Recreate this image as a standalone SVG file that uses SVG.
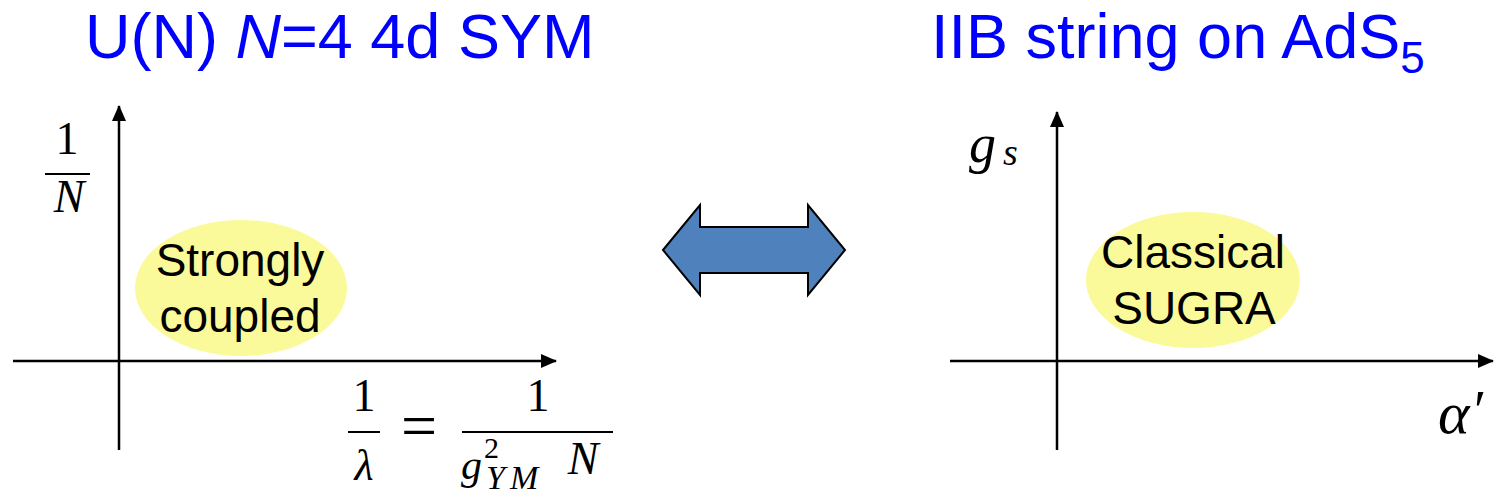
<svg xmlns="http://www.w3.org/2000/svg" width="1494" height="499" viewBox="0 0 1494 499">
<defs>
<style>
.title{font-family:"Liberation Sans",Arial,sans-serif;font-size:63px;fill:#0000FF}
.lbl{font-family:"Liberation Sans",Arial,sans-serif;font-size:46px;fill:#000;text-anchor:middle}
.m{font-family:"Liberation Serif","Times New Roman",serif;fill:#000}
.mi{font-family:"Liberation Serif","Times New Roman",serif;font-style:italic;fill:#000}
.axis{stroke:#000;stroke-width:2.5;fill:none}
.bar{stroke:#000;stroke-width:2;fill:none}
.blob{fill:#FAFA9A}
</style>
<marker id="ah" viewBox="0 0 16 14" refX="15" refY="7" markerWidth="16" markerHeight="14" markerUnits="userSpaceOnUse" orient="auto">
<path d="M0,0 L16,7 L0,14 Z" fill="#000"/>
</marker>
</defs>

<g id="title-left"><text class="title" x="85" y="58">U(N) <tspan font-style="italic">N</tspan>=4 4d SYM</text></g>
<g id="title-right"><text class="title" x="931" y="58">IIB string on AdS<tspan font-size="44" dy="15">5</tspan></text></g>

<g id="connectors">
<line class="axis" x1="119" y1="450" x2="119" y2="106" marker-end="url(#ah)"/>
<line class="axis" x1="13" y1="361" x2="556" y2="361" marker-end="url(#ah)"/>
<line class="axis" x1="1057" y1="450" x2="1057" y2="112" marker-end="url(#ah)"/>
<line class="axis" x1="950" y1="361" x2="1493" y2="361" marker-end="url(#ah)"/>
</g>

<g id="double-arrow">
<path d="M663,250 L700,205 L700,227 L808,227 L808,205 L845,250 L808,295 L808,273 L700,273 L700,295 Z" fill="#4F81BD" stroke="#000" stroke-width="2" stroke-linejoin="miter"/>
</g>

<g id="node-strong">
<ellipse class="blob" cx="241" cy="288" rx="106" ry="68"/>
<text class="lbl" x="240" y="276">Strongly</text>
<text class="lbl" x="240" y="332">coupled</text>
</g>

<g id="node-sugra">
<ellipse class="blob" cx="1193" cy="280" rx="107" ry="68"/>
<text class="lbl" x="1193" y="268" font-size="47">Classical</text>
<text class="lbl" x="1194" y="324" font-size="47">SUGRA</text>
</g>

<g id="label-1overN">
<text class="m" x="67" y="154" font-size="46" text-anchor="middle">1</text>
<line class="bar" x1="45" y1="174" x2="90" y2="174"/>
<text class="mi" x="69" y="212" font-size="46" text-anchor="middle">N</text>
</g>

<g id="label-lambda">
<text class="m" x="364" y="411" font-size="46" text-anchor="middle">1</text>
<line class="bar" x1="348" y1="432" x2="380" y2="432"/>
<text class="mi" x="364" y="480" font-size="44" text-anchor="middle">λ</text>
<text class="m" x="419" y="447" font-size="64" text-anchor="middle">=</text>
<text class="m" x="538" y="411" font-size="46" text-anchor="middle">1</text>
<line class="bar" x1="462" y1="432" x2="613" y2="432"/>
<text class="mi" x="461" y="479" font-size="42">g</text>
<text class="m" x="484" y="458" font-size="30">2</text>
<text class="mi" x="486" y="489" font-size="34" letter-spacing="5">YM</text>
<text class="mi" x="583" y="474" font-size="46" text-anchor="middle">N</text>
</g>

<g id="label-gs">
<text class="mi" x="969" y="162" font-size="54">g</text>
<text class="mi" x="1003" y="165" font-size="38">s</text>
</g>

<g id="label-alpha">
<text class="mi" x="1438" y="433" font-size="60">α</text>
<text class="m" x="1474" y="430" font-size="56">′</text>
</g>
</svg>
